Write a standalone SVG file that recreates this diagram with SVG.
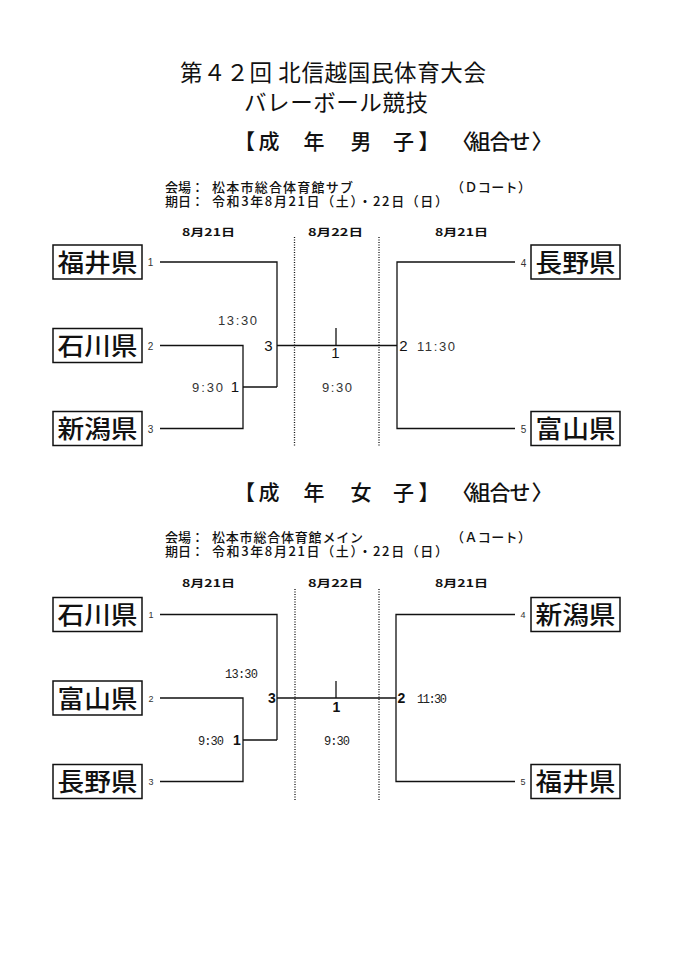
<svg xmlns="http://www.w3.org/2000/svg" width="676" height="960" viewBox="0 0 676 960">
<style>
.jp{font-family:"Noto Sans CJK JP","Noto Sans CJK SC",sans-serif;fill:#111}
.title{font-size:22.5px}
.sec{font-size:21px;text-anchor:middle;font-weight:500}
.info{font-size:13px;font-weight:500}
.date{font-size:10.5px;font-weight:bold}
.box rect{fill:#fff;stroke:#111;stroke-width:1.5}
.box text{font-family:"Noto Sans CJK JP","Noto Sans CJK SC",sans-serif;font-size:25px;font-weight:500;text-anchor:middle;fill:#111}
.seed{font-family:"Liberation Sans",Arial,sans-serif;font-size:10px;fill:#333;text-anchor:middle}
.seedb{font-family:"Liberation Sans",Arial,sans-serif;font-size:9px;fill:#333;text-anchor:middle}
.tm{font-family:"Liberation Sans",Arial,sans-serif;font-size:13px;fill:#333}
.tmb{font-family:"Liberation Mono",monospace;font-size:12px;fill:#222}
.num{font-family:"Liberation Sans",Arial,sans-serif;font-size:15px;fill:#111;text-anchor:middle}
.numb{font-family:"Liberation Sans",Arial,sans-serif;font-size:14px;font-weight:bold;fill:#111;text-anchor:middle}
.conn path{fill:none;stroke:#111;stroke-width:1.3}
.dot{fill:none;stroke:#666;stroke-width:1;stroke-dasharray:1 1.5}
</style>
<rect width="676" height="960" fill="#fff"/>
<g id="header">
<text class="jp title" x="180" y="81" textLength="306">第４２回 北信越国民体育大会</text>
<text class="jp title" x="244" y="111" textLength="184">バレーボール競技</text>
</g>
<!-- Men -->
<g id="men-header">
<text class="jp sec" x="244.5 269 314 361 403.5 429 462 480 500 520 542" y="148.5">【成年男子】〈組合せ〉</text>
<text class="jp info" x="165" y="192">会場：</text>
<text class="jp info" x="212" y="192" textLength="141">松本市総合体育館サブ</text>
<text class="jp info" x="451" y="192" textLength="80">（Ｄコート）</text>
<text class="jp info" x="165" y="206">期日：</text>
<text class="jp info" x="212" y="206" textLength="236">令和3年8月21日（土）・22日（日）</text>
<text class="jp date" x="182" y="236" textLength="53" lengthAdjust="spacingAndGlyphs">8月21日</text>
<text class="jp date" x="308" y="236" textLength="55" lengthAdjust="spacingAndGlyphs">8月22日</text>
<text class="jp date" x="435" y="236" textLength="53" lengthAdjust="spacingAndGlyphs">8月21日</text>
</g>
<g id="men-connectors" class="conn">
<path d="M160 262 H277 V387"/>
<path d="M160 345.5 H243 V428.5 H160"/>
<path d="M243 387 H277"/>
<path d="M277 345.5 H397"/>
<path d="M336 328 V345.5"/>
<path d="M515 262 H397 V428.5 H515"/>
<path class="dot" d="M294.5 237 V446 M379 237 V446"/>
</g>
<g id="men-fukui" class="box"><rect x="53" y="245" width="89" height="34"/><text x="97.5" y="271.5" textLength="80" lengthAdjust="spacingAndGlyphs">福井県</text></g>
<g id="men-ishikawa" class="box"><rect x="53" y="328.5" width="89" height="34"/><text x="97.5" y="355" textLength="80" lengthAdjust="spacingAndGlyphs">石川県</text></g>
<g id="men-niigata" class="box"><rect x="53" y="411.5" width="89" height="34"/><text x="97.5" y="438" textLength="80" lengthAdjust="spacingAndGlyphs">新潟県</text></g>
<g id="men-nagano" class="box"><rect x="531" y="245" width="89" height="34"/><text x="575.5" y="271.5" textLength="80" lengthAdjust="spacingAndGlyphs">長野県</text></g>
<g id="men-toyama" class="box"><rect x="531" y="411.5" width="89" height="34"/><text x="575.5" y="438" textLength="80" lengthAdjust="spacingAndGlyphs">富山県</text></g>
<g id="men-labels">
<text class="seed" x="150.5" y="266">1</text>
<text class="seed" x="150.5" y="349.5">2</text>
<text class="seed" x="150.5" y="432.5">3</text>
<text class="seed" x="523.5" y="267">4</text>
<text class="seed" x="523.5" y="433">5</text>
<text class="tm" x="218" y="325" textLength="39">13:30</text>
<text class="tm" x="192" y="392" textLength="31">9:30</text>
<text class="num" x="235" y="392">1</text>
<text class="num" x="268.5" y="351">3</text>
<text class="num" x="335.5" y="358">1</text>
<text class="tm" x="322" y="392" textLength="30">9:30</text>
<text class="num" x="403.5" y="351">2</text>
<text class="tm" x="417" y="351" textLength="38">11:30</text>
</g>
<!-- Women -->
<g id="women-header">
<text class="jp sec" x="244.5 269 314 361 403.5 429 462 480 500 520 542" y="499.5">【成年女子】〈組合せ〉</text>
<text class="jp info" x="165" y="542">会場：</text>
<text class="jp info" x="212" y="542" textLength="151">松本市総合体育館メイン</text>
<text class="jp info" x="451" y="542" textLength="80">（Ａコート）</text>
<text class="jp info" x="165" y="556">期日：</text>
<text class="jp info" x="212" y="556" textLength="236">令和3年8月21日（土）・22日（日）</text>
<text class="jp date" x="182" y="587" textLength="53" lengthAdjust="spacingAndGlyphs">8月21日</text>
<text class="jp date" x="308" y="587" textLength="55" lengthAdjust="spacingAndGlyphs">8月22日</text>
<text class="jp date" x="435" y="587" textLength="53" lengthAdjust="spacingAndGlyphs">8月21日</text>
</g>
<g id="women-connectors" class="conn">
<path d="M160 614.5 H277 V740"/>
<path d="M160 698 H243 V781.5 H160"/>
<path d="M243 740 H277"/>
<path d="M277 698 H396"/>
<path d="M336 681 V698"/>
<path d="M515 614.5 H396 V781.5 H515"/>
<path class="dot" d="M295 589 V800 M379 589 V800"/>
</g>
<g id="women-ishikawa" class="box"><rect x="53" y="597.5" width="89" height="34"/><text x="97.5" y="624" textLength="80" lengthAdjust="spacingAndGlyphs">石川県</text></g>
<g id="women-toyama" class="box"><rect x="53" y="681" width="89" height="34"/><text x="97.5" y="707.5" textLength="80" lengthAdjust="spacingAndGlyphs">富山県</text></g>
<g id="women-nagano" class="box"><rect x="53" y="764.5" width="89" height="34"/><text x="97.5" y="791" textLength="80" lengthAdjust="spacingAndGlyphs">長野県</text></g>
<g id="women-niigata" class="box"><rect x="531" y="597.5" width="89" height="34"/><text x="575.5" y="624" textLength="80" lengthAdjust="spacingAndGlyphs">新潟県</text></g>
<g id="women-fukui" class="box"><rect x="531" y="764.5" width="89" height="34"/><text x="575.5" y="791" textLength="80" lengthAdjust="spacingAndGlyphs">福井県</text></g>
<g id="women-labels">
<text class="seedb" x="151" y="617.5">1</text>
<text class="seedb" x="151" y="701.5">2</text>
<text class="seedb" x="151" y="785">3</text>
<text class="seedb" x="523" y="618">4</text>
<text class="seedb" x="523" y="785">5</text>
<text class="tmb" x="225" y="678" textLength="33">13:30</text>
<text class="tmb" x="198" y="745" textLength="26">9:30</text>
<text class="numb" x="237" y="745">1</text>
<text class="numb" x="272" y="703">3</text>
<text class="numb" x="336.5" y="712">1</text>
<text class="tmb" x="324" y="745" textLength="26">9:30</text>
<text class="numb" x="401.5" y="703">2</text>
<text class="tmb" x="417" y="703" textLength="30">11:30</text>
</g>
</svg>
